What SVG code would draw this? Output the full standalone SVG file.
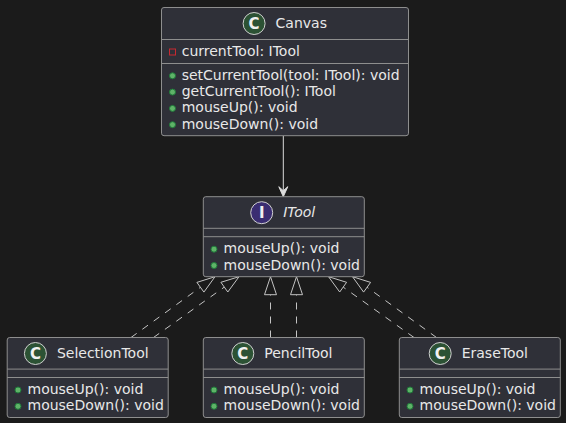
<svg xmlns="http://www.w3.org/2000/svg" width="566" height="423" viewBox="0 0 566 423">
<style>
.bg{fill:#1b1b1b}
.box{fill:#2f3038;stroke:#8e8e8e;stroke-width:1}
.sep{stroke:#8e8e8e;stroke-width:1}
.t{font-family:"DejaVu Sans",sans-serif;font-size:14px;fill:#e8e8e8}
.it{font-style:italic}
.spotC{fill:#2c5234;stroke:#d0d0d0;stroke-width:1}
.spotI{fill:#3a2d72;stroke:#d0d0d0;stroke-width:1}
.sl{font-family:"DejaVu Sans",sans-serif;font-size:15px;font-weight:bold;fill:#f0f0f0;text-anchor:middle}
.pub{fill:#5fb368;stroke:#1f7a3a;stroke-width:1}
.priv{fill:none;stroke:#c82930;stroke-width:1}
.dep{stroke:#dcdcdc;stroke-width:1;fill:none}
.real{stroke:#c4c4c4;stroke-width:1;fill:none;stroke-dasharray:7,7}
.tri{stroke:#c4c4c4;stroke-width:1;fill:#1b1b1b}
</style>
<rect class="bg" x="0" y="0" width="566" height="423"/>
<g id="connectors">
<line class="dep" x1="283.3" y1="135.7" x2="283.3" y2="192"/>
<polygon points="283.3,196.7 278.8,186.7 283.3,190.7 287.8,186.7" fill="#dcdcdc" stroke="#dcdcdc"/>
<line class="real" x1="131" y1="337.5" x2="200.4" y2="287.3"/>
<polygon class="tri" points="215,276.7 203.9,292.1 196.9,282.4"/>
<line class="real" x1="153.5" y1="337.5" x2="224.3" y2="287.1"/>
<polygon class="tri" points="239,276.7 227.8,292 220.9,282.3"/>
<line class="real" x1="270.5" y1="337.5" x2="270.5" y2="294.7"/>
<polygon class="tri" points="270.5,276.7 264.5,294.7 276.5,294.7"/>
<line class="real" x1="296.5" y1="337.5" x2="296.5" y2="294.7"/>
<polygon class="tri" points="296.5,276.7 290.5,294.7 302.5,294.7"/>
<line class="real" x1="414" y1="337.5" x2="343.2" y2="287.1"/>
<polygon class="tri" points="328.5,276.7 346.6,282.3 339.7,292"/>
<line class="real" x1="436.5" y1="337.5" x2="367.1" y2="287.3"/>
<polygon class="tri" points="352.5,276.7 370.6,282.4 363.6,292.1"/>
</g>
<g id="Canvas">
<rect class="box" x="161.5" y="7.5" width="247" height="128.2" rx="2.5"/>
<line class="sep" x1="161.5" y1="39.5" x2="408.5" y2="39.5"/>
<line class="sep" x1="161.5" y1="63.5" x2="408.5" y2="63.5"/>
<circle class="spotC" cx="254.1" cy="23.5" r="11"/>
<text class="sl" x="254.1" y="28.8">C</text>
<text class="t" x="275.6" y="28.3">Canvas</text>
<rect class="priv" x="169.5" y="49" width="6" height="6"/>
<text class="t" x="181.7" y="55.6">currentTool: ITool</text>
<circle class="pub" cx="172.5" cy="75.8" r="3"/>
<text class="t" x="181.7" y="79.8">setCurrentTool(tool: ITool): void</text>
<circle class="pub" cx="172.5" cy="92.1" r="3"/>
<text class="t" x="181.7" y="96.1">getCurrentTool(): ITool</text>
<circle class="pub" cx="172.5" cy="108.4" r="3"/>
<text class="t" x="181.7" y="112.4">mouseUp(): void</text>
<circle class="pub" cx="172.5" cy="124.7" r="3"/>
<text class="t" x="181.7" y="128.7">mouseDown(): void</text>
</g>
<g id="ITool">
<rect class="box" x="203.3" y="196.7" width="161" height="80" rx="2.5"/>
<line class="sep" x1="203.3" y1="228.3" x2="364.3" y2="228.3"/>
<line class="sep" x1="203.3" y1="236.7" x2="364.3" y2="236.7"/>
<circle class="spotI" cx="261.7" cy="212.7" r="11"/>
<text class="sl" x="261.7" y="218">I</text>
<text class="t it" x="283.2" y="217.2">ITool</text>
<circle class="pub" cx="214" cy="249.2" r="3"/>
<text class="t" x="223.6" y="253.2">mouseUp(): void</text>
<circle class="pub" cx="214" cy="265.5" r="3"/>
<text class="t" x="223.6" y="269.5">mouseDown(): void</text>
</g>
<g id="SelectionTool">
<rect class="box" x="7.2" y="337.5" width="161" height="80" rx="2.5"/>
<line class="sep" x1="7.2" y1="369.1" x2="168.2" y2="369.1"/>
<line class="sep" x1="7.2" y1="377.5" x2="168.2" y2="377.5"/>
<circle class="spotC" cx="35.4" cy="353.5" r="11"/>
<text class="sl" x="35.4" y="358.8">C</text>
<text class="t" x="56.9" y="358.2">SelectionTool</text>
<circle class="pub" cx="18" cy="390" r="3"/>
<text class="t" x="27.5" y="394">mouseUp(): void</text>
<circle class="pub" cx="18" cy="406.3" r="3"/>
<text class="t" x="27.5" y="410.3">mouseDown(): void</text>
</g>
<g id="PencilTool">
<rect class="box" x="203.3" y="337.5" width="161" height="80" rx="2.5"/>
<line class="sep" x1="203.3" y1="369.1" x2="364.3" y2="369.1"/>
<line class="sep" x1="203.3" y1="377.5" x2="364.3" y2="377.5"/>
<circle class="spotC" cx="242.8" cy="353.5" r="11"/>
<text class="sl" x="242.8" y="358.8">C</text>
<text class="t" x="264.3" y="358.2">PencilTool</text>
<circle class="pub" cx="214" cy="390" r="3"/>
<text class="t" x="223.6" y="394">mouseUp(): void</text>
<circle class="pub" cx="214" cy="406.3" r="3"/>
<text class="t" x="223.6" y="410.3">mouseDown(): void</text>
</g>
<g id="EraseTool">
<rect class="box" x="399.3" y="337.5" width="161" height="80" rx="2.5"/>
<line class="sep" x1="399.3" y1="369.1" x2="560.3" y2="369.1"/>
<line class="sep" x1="399.3" y1="377.5" x2="560.3" y2="377.5"/>
<circle class="spotC" cx="440.2" cy="353.5" r="11"/>
<text class="sl" x="440.2" y="358.8">C</text>
<text class="t" x="461.7" y="358.2">EraseTool</text>
<circle class="pub" cx="410" cy="390" r="3"/>
<text class="t" x="419.6" y="394">mouseUp(): void</text>
<circle class="pub" cx="410" cy="406.3" r="3"/>
<text class="t" x="419.6" y="410.3">mouseDown(): void</text>
</g>
</svg>
